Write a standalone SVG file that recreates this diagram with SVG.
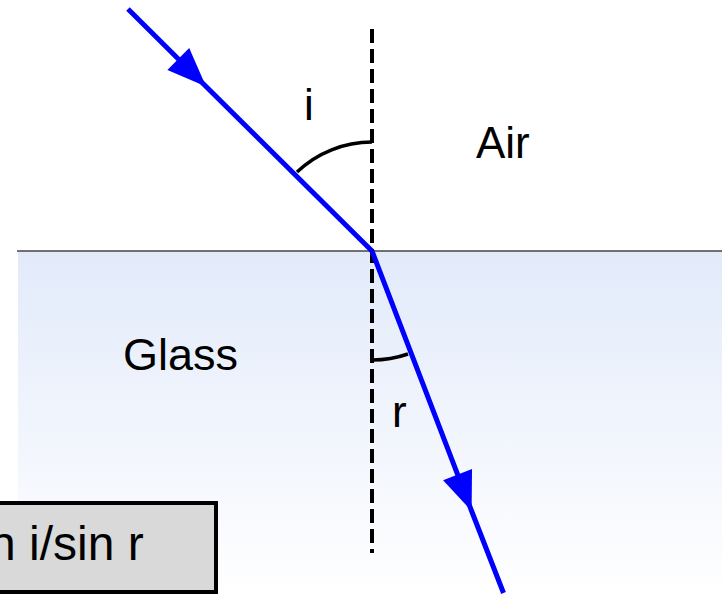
<svg xmlns="http://www.w3.org/2000/svg" width="722" height="597" viewBox="0 0 722 597">
  <defs>
    <linearGradient id="glassGrad" x1="0" y1="0" x2="0" y2="1">
      <stop offset="0" stop-color="#e2eafa"/>
      <stop offset="1" stop-color="#ffffff"/>
    </linearGradient>
    <marker id="arrow" markerUnits="userSpaceOnUse" markerWidth="42" markerHeight="34" viewBox="-40 -17 42 34" refX="0" refY="0" orient="auto">
      <path d="M0,0 L-39,-15.5 L-39,15.5 Z" fill="#0000ff"/>
    </marker>
    <style>
      .lbl { font-family: "Liberation Sans", Arial, sans-serif; font-size: 44px; fill: #000; }
      .ray { fill: none; stroke: #0000ff; stroke-width: 5; stroke-linecap: butt; stroke-linejoin: round; marker-mid: url(#arrow); }
      .arc { fill: none; stroke: #000; stroke-width: 3.5; }
    </style>
  </defs>

  <g id="background">
    <rect x="0" y="0" width="722" height="597" fill="#ffffff"/>
  </g>

  <g id="glass">
    <rect x="18" y="251" width="704" height="346" fill="url(#glassGrad)"/>
    <line x1="17" y1="251" x2="722" y2="251" stroke="#444" stroke-width="1.5"/>
    <text class="lbl" x="123" y="370" style="font-size:45px">Glass</text>
  </g>

  <g id="air">
    <text class="lbl" x="476" y="158">Air</text>
  </g>

  <g id="normal">
    <line x1="372" y1="29" x2="372" y2="553" stroke="#000" stroke-width="4" stroke-dasharray="14 6"/>
  </g>

  <g id="angle-i">
    <path class="arc" d="M297,172 A109,109 0 0 1 372,142"/>
    <text class="lbl" x="304" y="120">i</text>
  </g>

  <g id="angle-r">
    <path class="arc" d="M372,360 A109,109 0 0 0 408,354"/>
    <text class="lbl" x="392" y="427">r</text>
  </g>

  <g id="connectors">
    <path class="ray" d="M128,9 L206,86.4 L372,251"/>
    <path class="ray" d="M372,251 L471.6,511 L503.5,593"/>
  </g>

  <g id="formula">
    <rect x="-10" y="503" width="226" height="89" fill="#d9d9d9" stroke="#000" stroke-width="4"/>
    <text x="-11" y="560" font-family="'Liberation Sans', Arial, sans-serif" font-size="48" fill="#000">n i/sin r</text>
  </g>
</svg>
